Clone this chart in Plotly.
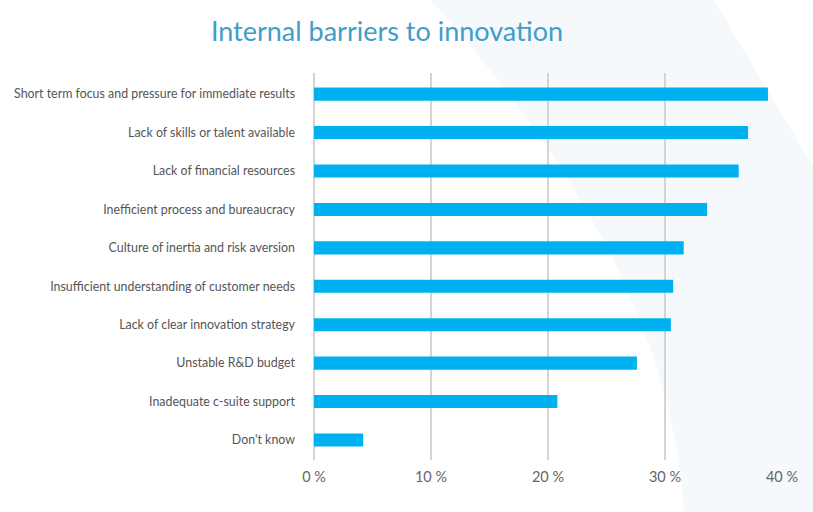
import plotly.graph_objects as go

categories = [
    "Short term focus and pressure for immediate results",
    "Lack of skills or talent available",
    "Lack of financial resources",
    "Inefficient process and bureaucracy",
    "Culture of inertia and risk aversion",
    "Insufficient understanding of customer needs",
    "Lack of clear innovation strategy",
    "Unstable R&D budget",
    "Inadequate c-suite support",
    "Don't know",
]
values = [38.8, 37.1, 36.3, 33.6, 31.6, 30.7, 30.5, 27.6, 20.8, 4.2]
tick_vals = [0, 10, 20, 30, 40]
tick_text = ["0 %", "10 %", "20 %", "30 %", "40 %"]

W, H = 813, 512
ML, MR, MT, MB = 313.5, 31, 73, 51.5
PW, PH = W - ML - MR, H - MT - MB


def px(x, y):
    return (x - ML) / PW, (H - MB - y) / PH


def pt(x, y):
    a, b = px(x, y)
    return f"{a:.4f},{b:.4f}"


band_path = (
    f"M {pt(428, -2)} L {pt(713, -2)} L {pt(815, 170)} L {pt(815, 515)} "
    f"L {pt(684, 515)} Q {pt(670, 264)} {pt(428, -2)} Z"
)

fig = go.Figure(
    go.Bar(
        x=values,
        y=categories,
        orientation="h",
        width=0.34,
        marker=dict(color="#00b1f1", line=dict(width=0)),
        hoverinfo="skip",
    )
)

fig.update_layout(
    width=W,
    height=H,
    margin=dict(l=ML, r=MR, t=MT, b=MB, pad=0, autoexpand=False),
    paper_bgcolor="white",
    plot_bgcolor="rgba(0,0,0,0)",
    showlegend=False,
    font=dict(family="Lato, sans-serif", color="#555"),
    title=dict(
        text="Internal barriers to innovation",
        x=387 / W,
        xanchor="center",
        xref="container",
        y=1 - 32 / H,
        yanchor="middle",
        yref="container",
        font=dict(family="Lato", size=27, color="#3f9dca"),
    ),
    xaxis=dict(
        range=[0, 40],
        tickvals=tick_vals,
        ticktext=tick_text,
        showgrid=True,
        gridcolor="#d4d4d4",
        gridwidth=1.5,
        zeroline=True,
        zerolinecolor="#d4d4d4",
        zerolinewidth=1.5,
        showline=False,
        ticks="",
        tickfont=dict(size=14.5, color="#666"),
        ticklabelstandoff=6,
        automargin=False,
        fixedrange=True,
    ),
    yaxis=dict(
        range=[9.52, -0.55],
        showgrid=False,
        zeroline=False,
        showline=False,
        ticks="",
        tickfont=dict(size=12.4, color="#555"),
        ticklabelstandoff=18,
        automargin=False,
        fixedrange=True,
    ),
    shapes=[
        dict(
            type="path",
            path=band_path,
            xref="paper",
            yref="paper",
            fillcolor="#f6f9fc",
            line=dict(width=0),
            layer="below",
        )
    ],
)

fig.write_html(
    "out.html",
    config={"displayModeBar": False},
    post_script="document.body.style.margin='0';document.body.style.overflow='hidden';",
)
